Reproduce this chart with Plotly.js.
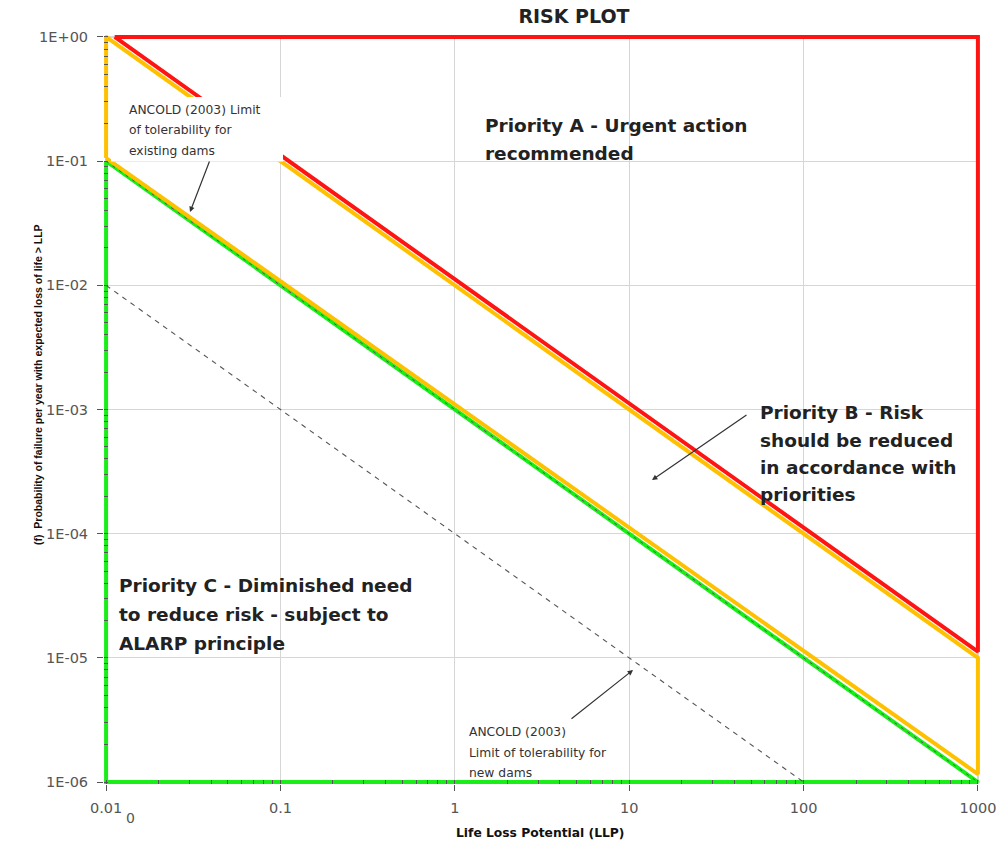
<!DOCTYPE html>
<html>
<head>
<meta charset="utf-8">
<script src="https://cdn.plot.ly/plotly-3.0.1.min.js"></script>
<style>
  html, body { margin: 0; padding: 0; background: #fff; }
  #chart { width: 1001px; height: 847px; }
</style>
</head>
<body>
<div id="chart"></div>
<script>
// ---- data ----
const xTickVals = [0.01, 0.1, 1, 10, 100, 1000];
const xTickText = ['0.01', '0.1', '1', '10', '100', '1000'];
const yTickVals = [1e-6, 1e-5, 1e-4, 1e-3, 1e-2, 1e-1, 1];
const yTickText = ['1E-06', '1E-05', '1E-04', '1E-03', '1E-02', '1E-01', '1E+00'];

// Priority A boundary (red)
const redX = [0.0112, 1000, 1000, 0.0112];
const redY = [1, 1, 1.12e-5, 1];
// Priority B band (orange)
const orangeX = [0.01, 0.01, 1000, 1000, 0.01];
const orangeY = [0.106, 1, 1e-5, 1.16e-6, 0.106];
// Priority C boundary (green)
const greenX = [0.01, 0.01, 1000, 0.01];
const greenY = [0.1, 1e-6, 1e-6, 0.1];
// ANCOLD (2003) limit of tolerability, existing dams (dashed)
const existX = [0.01, 1000];
const existY = [0.1, 1e-6];
// ANCOLD (2003) limit of tolerability, new dams (dashed)
const newX = [0.01, 100];
const newY = [0.01, 1e-6];

// ---- layout geometry ----
const W = 1001, H = 847;
const L = 104, R = 21, T = 35, B = 63;
const PW = W - L - R, PH = H - T - B;
const px = v => (v - L) / PW;
const py = v => 1 - (v - T) / PH;

const traces = [
  {x: greenX, y: greenY, mode: 'lines', line: {color: '#19ee19', width: 4}, hoverinfo: 'skip'},
  {x: orangeX, y: orangeY, mode: 'lines', line: {color: '#ffc000', width: 4}, hoverinfo: 'skip'},
  {x: redX, y: redY, mode: 'lines', line: {color: '#ff1414', width: 4}, hoverinfo: 'skip'},
  {x: existX, y: existY, mode: 'lines', line: {color: '#555555', width: 1, dash: '3px,5px'}, hoverinfo: 'skip'},
  {x: newX, y: newY, mode: 'lines', line: {color: '#555555', width: 1.1, dash: '5px,5px'}, hoverinfo: 'skip'}
];

const bigFont = {family: 'DejaVu Sans, Verdana, sans-serif', size: 18.5, color: '#222222', weight: 'bold'};
const smallFont = {family: 'DejaVu Sans, Arial, sans-serif', size: 12.3, color: '#333333'};

function textLine(text, xpx, ypx, font) {
  return {text: text, xref: 'paper', yref: 'paper', x: px(xpx), y: py(ypx),
          xanchor: 'left', yanchor: 'middle', showarrow: false, font: font};
}
function arrow(hx, hy, tx, ty) {
  return {text: '', xref: 'paper', yref: 'paper', x: px(hx), y: py(hy),
          axref: 'pixel', ayref: 'pixel', ax: tx - hx, ay: ty - hy,
          showarrow: true, arrowhead: 2, arrowsize: 0.9, arrowwidth: 1.2, arrowcolor: '#333333'};
}

const annotations = [
  textLine('<b>Priority A - Urgent action</b>', 483, 125, bigFont),
  textLine('<b>recommended</b>', 483, 153, bigFont),
  textLine('<b>Priority B - Risk</b>', 758, 413, bigFont),
  textLine('<b>should be reduced</b>', 758, 440, bigFont),
  textLine('<b>in accordance with</b>', 758, 467, bigFont),
  textLine('<b>priorities</b>', 758, 494, bigFont),
  textLine('<b>Priority C - Diminished need</b>', 117, 585, bigFont),
  textLine('<b>to reduce risk - subject to</b>', 117, 614, bigFont),
  textLine('<b>ALARP principle</b>', 117, 643, bigFont),
  textLine('ANCOLD (2003) Limit', 127, 110, smallFont),
  textLine('of tolerability for', 127, 130, smallFont),
  textLine('existing dams', 127, 151, smallFont),
  textLine('ANCOLD (2003)', 467, 732, smallFont),
  textLine('Limit of tolerability for', 467, 753, smallFont),
  textLine('new dams', 467, 773, smallFont),
  arrow(190, 212, 210, 160),
  arrow(633, 670, 570, 720),
  arrow(652, 480, 748, 414),
  {text: '0', xref: 'paper', yref: 'paper', x: px(130), y: py(818), xanchor: 'center', yanchor: 'middle',
   showarrow: false, font: {family: 'DejaVu Sans, Arial, sans-serif', size: 14, color: '#555555'}},
  {text: '<b>Life Loss Potential (LLP)</b>', xref: 'paper', yref: 'paper', x: px(540), y: py(833),
   xanchor: 'center', yanchor: 'middle', showarrow: false,
   font: {family: 'DejaVu Sans, Arial, sans-serif', size: 12.3, color: '#111111'}},
  {text: '<b>(f)  Probability of failure per year with expected loss of life > LLP</b>', xref: 'paper', yref: 'paper',
   x: px(38), y: py(385), xanchor: 'center', yanchor: 'middle', textangle: -90, showarrow: false,
   font: {family: 'Liberation Sans Narrow, Arial Narrow, Liberation Sans, sans-serif', size: 10.5, color: '#111111'}}
];

const shapes = [
  {type: 'rect', xref: 'paper', yref: 'paper', x0: px(111), x1: px(283), y0: py(161.5), y1: py(97),
   fillcolor: '#ffffff', line: {width: 0}, layer: 'above'}
];

const axisCommon = {
  type: 'log', showline: false, zeroline: false,
  showgrid: true, gridcolor: '#d6d6d6', gridwidth: 1.2,
  ticks: 'outside', ticklen: 6, tickcolor: '#555555', tickwidth: 1,
  tickmode: 'array',
  tickfont: {family: 'DejaVu Sans, Arial, sans-serif', size: 14.5, color: '#555555'},
  minor: {ticks: 'inside', ticklen: 4, tickcolor: '#555555', tickwidth: 1, dtick: 'D1', showgrid: false},
  fixedrange: true
};

const layout = {
  width: W, height: H,
  margin: {l: L, r: R, t: T, b: B, pad: 0},
  paper_bgcolor: '#ffffff', plot_bgcolor: '#ffffff',
  showlegend: false,
  title: {text: '<b>RISK PLOT</b>', x: 574 / W, xanchor: 'center', xref: 'container',
          y: 1 - 16 / H, yanchor: 'middle', yref: 'container',
          font: {family: 'DejaVu Sans, Arial, sans-serif', size: 19, color: '#222222'}},
  xaxis: Object.assign({}, axisCommon, {
    range: [-2.012, 3.012], tickvals: xTickVals, ticktext: xTickText, ticklabelstandoff: 5
  }),
  yaxis: Object.assign({}, axisCommon, {
    range: [-6.016, 0.016], tickvals: yTickVals, ticktext: yTickText, ticklabelstandoff: 6
  }),
  annotations: annotations,
  shapes: shapes
};

Plotly.newPlot('chart', traces, layout, {displayModeBar: false, staticPlot: true});
</script>
</body>
</html>
